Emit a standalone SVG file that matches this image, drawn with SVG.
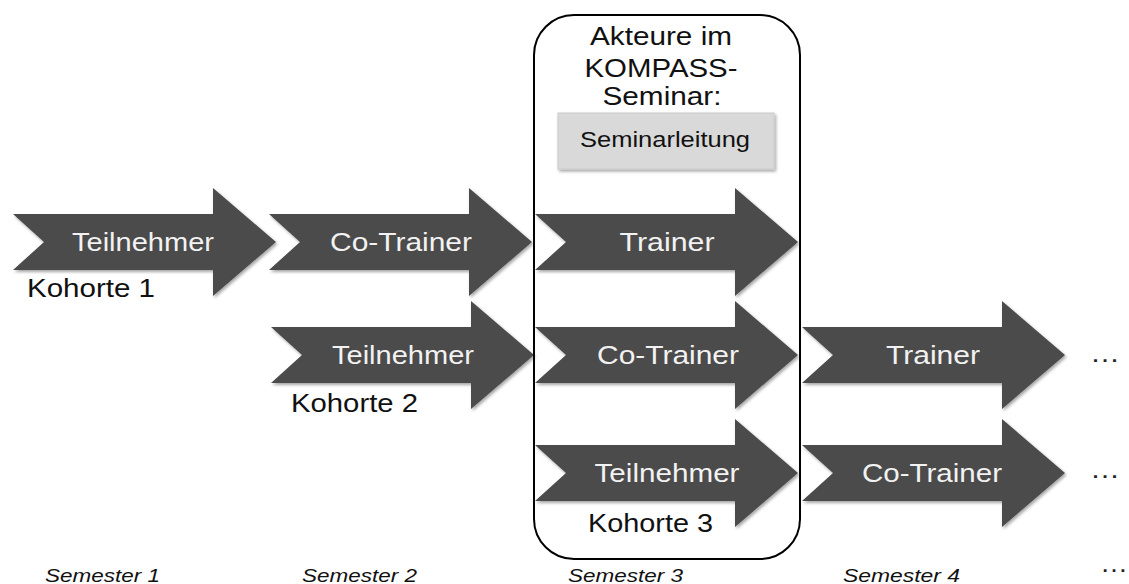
<svg xmlns="http://www.w3.org/2000/svg" width="1129" height="584" viewBox="0 0 1129 584">
<defs>
<filter id="sh" x="-5%" y="-10%" width="115%" height="125%">
<feDropShadow dx="1.5" dy="2" stdDeviation="1.5" flood-color="#000" flood-opacity="0.35"/>
</filter>
<path id="arr" d="M0,-28 L200,-28 L200,-54 L263,0 L200,54 L200,28 L0,28 L31,0 Z"/>
</defs>
<style>
.a{fill:#4b4b4b;filter:url(#sh)}
.t{font-family:"Liberation Sans",Arial,sans-serif;font-size:25px;fill:#f2f2f2;text-anchor:middle}
.k{font-family:"Liberation Sans",Arial,sans-serif;font-size:25px;fill:#111}
.h{font-family:"Liberation Sans",Arial,sans-serif;font-size:25px;fill:#111;text-anchor:middle}
.s{font-family:"Liberation Sans",Arial,sans-serif;font-size:19px;font-style:italic;fill:#111}
.d{font-family:"Liberation Sans",Arial,sans-serif;font-size:25px;fill:#222}
</style>
<rect width="1129" height="584" fill="#fff"/>

<g id="n-r1-teilnehmer"><use href="#arr" class="a" x="13" y="242"/><text class="t" x="143" y="251" textLength="142" lengthAdjust="spacingAndGlyphs">Teilnehmer</text></g>
<g id="n-r1-cotrainer"><use href="#arr" class="a" x="269" y="242"/><text class="t" x="401" y="251" textLength="142" lengthAdjust="spacingAndGlyphs">Co-Trainer</text></g>
<g id="n-r1-trainer"><use href="#arr" class="a" x="535" y="242"/><text class="t" x="667" y="251" textLength="95" lengthAdjust="spacingAndGlyphs">Trainer</text></g>

<g id="n-r2-teilnehmer"><use href="#arr" class="a" x="271" y="355"/><text class="t" x="403" y="364" textLength="142" lengthAdjust="spacingAndGlyphs">Teilnehmer</text></g>
<g id="n-r2-cotrainer"><use href="#arr" class="a" x="535" y="355"/><text class="t" x="668" y="364" textLength="142" lengthAdjust="spacingAndGlyphs">Co-Trainer</text></g>
<g id="n-r2-trainer"><use href="#arr" class="a" x="802" y="355"/><text class="t" x="933" y="364" textLength="94" lengthAdjust="spacingAndGlyphs">Trainer</text></g>

<g id="n-r3-teilnehmer"><use href="#arr" class="a" x="535" y="473"/><text class="t" x="667" y="482" textLength="145" lengthAdjust="spacingAndGlyphs">Teilnehmer</text></g>
<g id="n-r3-cotrainer"><use href="#arr" class="a" x="802" y="473"/><text class="t" x="932" y="482" textLength="140" lengthAdjust="spacingAndGlyphs">Co-Trainer</text></g>

<g id="labels-kohorte">
<text class="k" x="27" y="297" textLength="128" lengthAdjust="spacingAndGlyphs">Kohorte 1</text>
<text class="k" x="291" y="412" textLength="127" lengthAdjust="spacingAndGlyphs">Kohorte 2</text>
<text class="k" x="588" y="532" textLength="125" lengthAdjust="spacingAndGlyphs">Kohorte 3</text>
</g>

<g id="n-seminar">
<rect x="534" y="15" width="266" height="544" rx="40" ry="40" fill="none" stroke="#000" stroke-width="2"/>
<text class="h" x="661" y="45" textLength="142" lengthAdjust="spacingAndGlyphs">Akteure im</text>
<text class="h" x="661" y="77" textLength="153" lengthAdjust="spacingAndGlyphs">KOMPASS-</text>
<text class="h" x="662" y="105" textLength="119" lengthAdjust="spacingAndGlyphs">Seminar:</text>
</g>

<g id="n-seminarleitung">
<rect x="558" y="113" width="216" height="56" fill="#d9d9d9" stroke="#cacaca" stroke-width="1" filter="url(#sh)"/>
<text class="h" x="665" y="147" style="font-size:22px" textLength="170" lengthAdjust="spacingAndGlyphs">Seminarleitung</text>
</g>

<g id="labels-semester">
<text class="s" x="45" y="582" textLength="115" lengthAdjust="spacingAndGlyphs">Semester 1</text>
<text class="s" x="302" y="582" textLength="115" lengthAdjust="spacingAndGlyphs">Semester 2</text>
<text class="s" x="568" y="582" textLength="115" lengthAdjust="spacingAndGlyphs">Semester 3</text>
<text class="s" x="843" y="582" textLength="117" lengthAdjust="spacingAndGlyphs">Semester 4</text>
</g>

<g id="labels-ellipsis">
<text class="d" x="1090" y="362" textLength="30" lengthAdjust="spacingAndGlyphs">…</text>
<text class="d" x="1090" y="478" textLength="30" lengthAdjust="spacingAndGlyphs">…</text>
<text class="d" x="1100" y="572" textLength="28" lengthAdjust="spacingAndGlyphs">…</text>
</g>
</svg>
